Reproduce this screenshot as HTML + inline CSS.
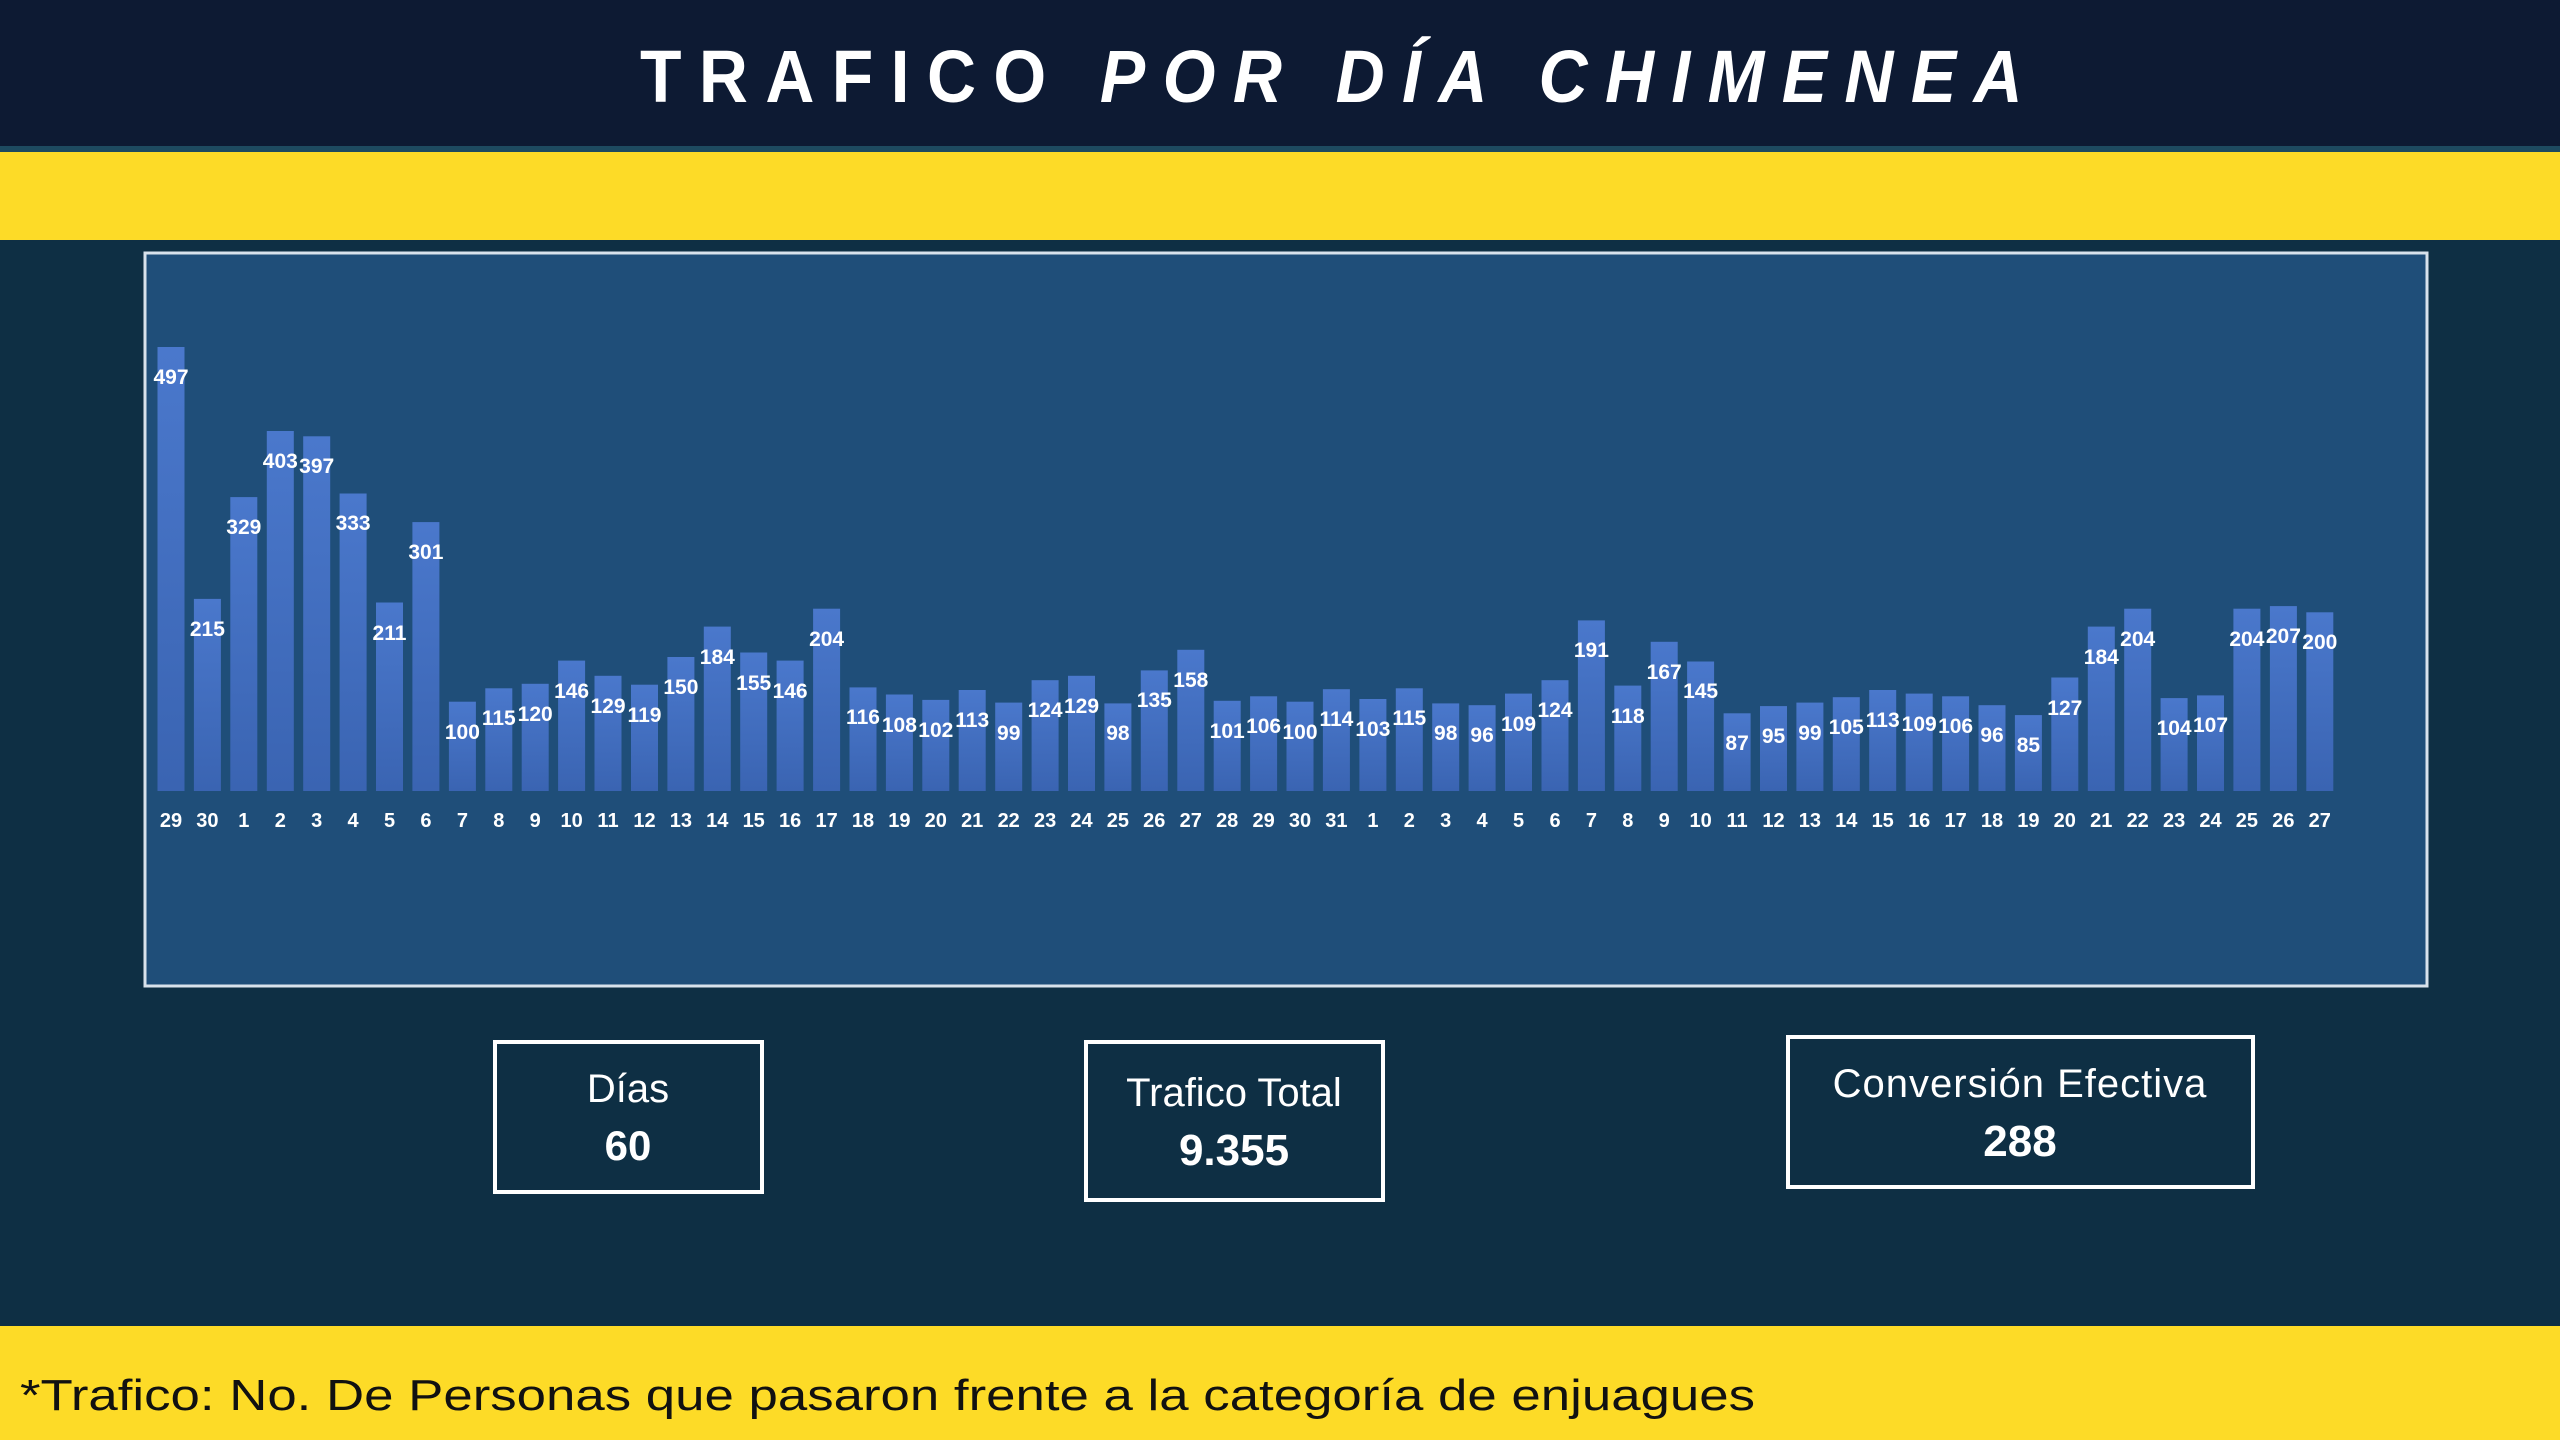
<!DOCTYPE html>
<html><head><meta charset="utf-8"><style>
html,body{margin:0;padding:0;width:2560px;height:1440px;overflow:hidden;background:#0e2f44}
svg{display:block}
</style></head><body>
<svg width="2560" height="1440" viewBox="0 0 2560 1440" xmlns="http://www.w3.org/2000/svg" font-family="'Liberation Sans', sans-serif">
<defs>
<linearGradient id="bg" x1="0" y1="0" x2="0" y2="1"><stop offset="0" stop-color="#4a78cc"/><stop offset="1" stop-color="#3a64b2"/></linearGradient>
</defs>
<rect x="0" y="0" width="2560" height="148" fill="#0d1a33"/>
<rect x="0" y="146" width="2560" height="6" fill="#1d4a60"/>
<rect x="0" y="152" width="2560" height="88" fill="#fddb27"/>
<rect x="0" y="240" width="2560" height="1086" fill="#0e2f44"/>
<rect x="0" y="1326" width="2560" height="114" fill="#fddb27"/>
<text x="1340" y="102" text-anchor="middle" fill="#fff" font-size="74" font-weight="bold" letter-spacing="19" textLength="1400" lengthAdjust="spacingAndGlyphs">TRAFICO <tspan font-style="italic">POR DÍA CHIMENEA</tspan></text>
<rect x="145" y="253" width="2282" height="733" fill="#1f4e79" stroke="#d8e2ec" stroke-width="3"/>
<g fill="url(#bg)">
<rect x="157.5" y="347.0" width="27" height="444.0"/>
<rect x="193.9" y="598.9" width="27" height="192.1"/>
<rect x="230.3" y="497.1" width="27" height="293.9"/>
<rect x="266.8" y="431.0" width="27" height="360.0"/>
<rect x="303.2" y="436.3" width="27" height="354.7"/>
<rect x="339.6" y="493.5" width="27" height="297.5"/>
<rect x="376.0" y="602.5" width="27" height="188.5"/>
<rect x="412.4" y="522.1" width="27" height="268.9"/>
<rect x="448.9" y="701.7" width="27" height="89.3"/>
<rect x="485.3" y="688.3" width="27" height="102.7"/>
<rect x="521.7" y="683.8" width="27" height="107.2"/>
<rect x="558.1" y="660.6" width="27" height="130.4"/>
<rect x="594.5" y="675.8" width="27" height="115.2"/>
<rect x="631.0" y="684.7" width="27" height="106.3"/>
<rect x="667.4" y="657.0" width="27" height="134.0"/>
<rect x="703.8" y="626.6" width="27" height="164.4"/>
<rect x="740.2" y="652.5" width="27" height="138.5"/>
<rect x="776.6" y="660.6" width="27" height="130.4"/>
<rect x="813.1" y="608.7" width="27" height="182.3"/>
<rect x="849.5" y="687.4" width="27" height="103.6"/>
<rect x="885.9" y="694.5" width="27" height="96.5"/>
<rect x="922.3" y="699.9" width="27" height="91.1"/>
<rect x="958.7" y="690.0" width="27" height="101.0"/>
<rect x="995.2" y="702.6" width="27" height="88.4"/>
<rect x="1031.6" y="680.2" width="27" height="110.8"/>
<rect x="1068.0" y="675.8" width="27" height="115.2"/>
<rect x="1104.4" y="703.4" width="27" height="87.6"/>
<rect x="1140.8" y="670.4" width="27" height="120.6"/>
<rect x="1177.3" y="649.8" width="27" height="141.2"/>
<rect x="1213.7" y="700.8" width="27" height="90.2"/>
<rect x="1250.1" y="696.3" width="27" height="94.7"/>
<rect x="1286.5" y="701.7" width="27" height="89.3"/>
<rect x="1322.9" y="689.2" width="27" height="101.8"/>
<rect x="1359.4" y="699.0" width="27" height="92.0"/>
<rect x="1395.8" y="688.3" width="27" height="102.7"/>
<rect x="1432.2" y="703.4" width="27" height="87.6"/>
<rect x="1468.6" y="705.2" width="27" height="85.8"/>
<rect x="1505.0" y="693.6" width="27" height="97.4"/>
<rect x="1541.5" y="680.2" width="27" height="110.8"/>
<rect x="1577.9" y="620.4" width="27" height="170.6"/>
<rect x="1614.3" y="685.6" width="27" height="105.4"/>
<rect x="1650.7" y="641.8" width="27" height="149.2"/>
<rect x="1687.1" y="661.5" width="27" height="129.5"/>
<rect x="1723.6" y="713.3" width="27" height="77.7"/>
<rect x="1760.0" y="706.1" width="27" height="84.9"/>
<rect x="1796.4" y="702.6" width="27" height="88.4"/>
<rect x="1832.8" y="697.2" width="27" height="93.8"/>
<rect x="1869.2" y="690.0" width="27" height="101.0"/>
<rect x="1905.7" y="693.6" width="27" height="97.4"/>
<rect x="1942.1" y="696.3" width="27" height="94.7"/>
<rect x="1978.5" y="705.2" width="27" height="85.8"/>
<rect x="2014.9" y="715.1" width="27" height="75.9"/>
<rect x="2051.3" y="677.5" width="27" height="113.5"/>
<rect x="2087.8" y="626.6" width="27" height="164.4"/>
<rect x="2124.2" y="608.7" width="27" height="182.3"/>
<rect x="2160.6" y="698.1" width="27" height="92.9"/>
<rect x="2197.0" y="695.4" width="27" height="95.6"/>
<rect x="2233.4" y="608.7" width="27" height="182.3"/>
<rect x="2269.9" y="606.1" width="27" height="184.9"/>
<rect x="2306.3" y="612.3" width="27" height="178.7"/>
</g>
<g fill="#fff" font-size="21" font-weight="bold" text-anchor="middle">
<text x="171.0" y="384">497</text><text x="207.4" y="636">215</text><text x="243.8" y="534">329</text><text x="280.3" y="468">403</text><text x="316.7" y="473">397</text><text x="353.1" y="530">333</text><text x="389.5" y="640">211</text><text x="425.9" y="559">301</text><text x="462.4" y="739">100</text><text x="498.8" y="725">115</text><text x="535.2" y="721">120</text><text x="571.6" y="698">146</text><text x="608.0" y="713">129</text><text x="644.5" y="722">119</text><text x="680.9" y="694">150</text><text x="717.3" y="664">184</text><text x="753.7" y="690">155</text><text x="790.1" y="698">146</text><text x="826.6" y="646">204</text><text x="863.0" y="724">116</text><text x="899.4" y="732">108</text><text x="935.8" y="737">102</text><text x="972.2" y="727">113</text><text x="1008.7" y="740">99</text><text x="1045.1" y="717">124</text><text x="1081.5" y="713">129</text><text x="1117.9" y="740">98</text><text x="1154.3" y="707">135</text><text x="1190.8" y="687">158</text><text x="1227.2" y="738">101</text><text x="1263.6" y="733">106</text><text x="1300.0" y="739">100</text><text x="1336.4" y="726">114</text><text x="1372.9" y="736">103</text><text x="1409.3" y="725">115</text><text x="1445.7" y="740">98</text><text x="1482.1" y="742">96</text><text x="1518.5" y="731">109</text><text x="1555.0" y="717">124</text><text x="1591.4" y="657">191</text><text x="1627.8" y="723">118</text><text x="1664.2" y="679">167</text><text x="1700.6" y="698">145</text><text x="1737.1" y="750">87</text><text x="1773.5" y="743">95</text><text x="1809.9" y="740">99</text><text x="1846.3" y="734">105</text><text x="1882.7" y="727">113</text><text x="1919.2" y="731">109</text><text x="1955.6" y="733">106</text><text x="1992.0" y="742">96</text><text x="2028.4" y="752">85</text><text x="2064.8" y="715">127</text><text x="2101.3" y="664">184</text><text x="2137.7" y="646">204</text><text x="2174.1" y="735">104</text><text x="2210.5" y="732">107</text><text x="2246.9" y="646">204</text><text x="2283.4" y="643">207</text><text x="2319.8" y="649">200</text>
</g>
<g fill="#fff" font-size="20" font-weight="bold" text-anchor="middle">
<text x="171.0" y="827">29</text><text x="207.4" y="827">30</text><text x="243.8" y="827">1</text><text x="280.3" y="827">2</text><text x="316.7" y="827">3</text><text x="353.1" y="827">4</text><text x="389.5" y="827">5</text><text x="425.9" y="827">6</text><text x="462.4" y="827">7</text><text x="498.8" y="827">8</text><text x="535.2" y="827">9</text><text x="571.6" y="827">10</text><text x="608.0" y="827">11</text><text x="644.5" y="827">12</text><text x="680.9" y="827">13</text><text x="717.3" y="827">14</text><text x="753.7" y="827">15</text><text x="790.1" y="827">16</text><text x="826.6" y="827">17</text><text x="863.0" y="827">18</text><text x="899.4" y="827">19</text><text x="935.8" y="827">20</text><text x="972.2" y="827">21</text><text x="1008.7" y="827">22</text><text x="1045.1" y="827">23</text><text x="1081.5" y="827">24</text><text x="1117.9" y="827">25</text><text x="1154.3" y="827">26</text><text x="1190.8" y="827">27</text><text x="1227.2" y="827">28</text><text x="1263.6" y="827">29</text><text x="1300.0" y="827">30</text><text x="1336.4" y="827">31</text><text x="1372.9" y="827">1</text><text x="1409.3" y="827">2</text><text x="1445.7" y="827">3</text><text x="1482.1" y="827">4</text><text x="1518.5" y="827">5</text><text x="1555.0" y="827">6</text><text x="1591.4" y="827">7</text><text x="1627.8" y="827">8</text><text x="1664.2" y="827">9</text><text x="1700.6" y="827">10</text><text x="1737.1" y="827">11</text><text x="1773.5" y="827">12</text><text x="1809.9" y="827">13</text><text x="1846.3" y="827">14</text><text x="1882.7" y="827">15</text><text x="1919.2" y="827">16</text><text x="1955.6" y="827">17</text><text x="1992.0" y="827">18</text><text x="2028.4" y="827">19</text><text x="2064.8" y="827">20</text><text x="2101.3" y="827">21</text><text x="2137.7" y="827">22</text><text x="2174.1" y="827">23</text><text x="2210.5" y="827">24</text><text x="2246.9" y="827">25</text><text x="2283.4" y="827">26</text><text x="2319.8" y="827">27</text>
</g>
<g fill="none" stroke="#fff" stroke-width="4">
<rect x="495" y="1042" width="267" height="150"/>
<rect x="1086" y="1042" width="297" height="158"/>
<rect x="1788" y="1037" width="465" height="150"/>
</g>
<g fill="#fff" text-anchor="middle">
<text x="628" y="1102" font-size="40">Días</text>
<text x="628" y="1160" font-size="42" font-weight="bold">60</text>
<text x="1234" y="1106" font-size="40">Trafico Total</text>
<text x="1234" y="1165" font-size="44" font-weight="bold">9.355</text>
<text x="2020" y="1097" font-size="40" letter-spacing="1">Conversión  Efectiva</text>
<text x="2020" y="1156" font-size="44" font-weight="bold">288</text>
</g>
<text x="20" y="1410" fill="#111" font-size="44" textLength="1735" lengthAdjust="spacingAndGlyphs">*Trafico: No.  De Personas que pasaron frente a la categoría de enjuagues</text>
</svg>
</body></html>
